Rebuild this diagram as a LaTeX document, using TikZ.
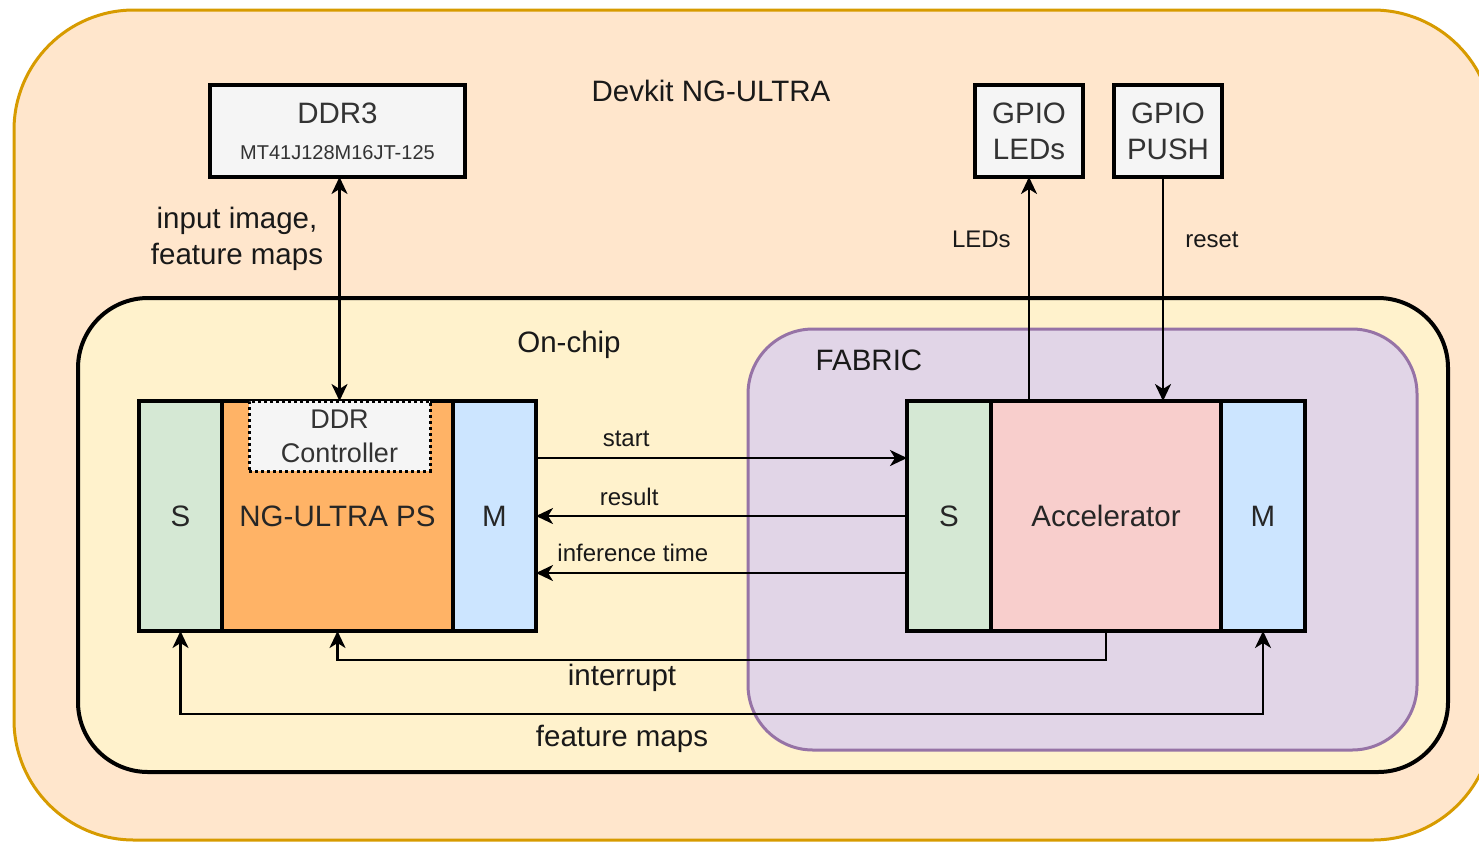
\documentclass[tikz,border=0pt]{standalone}
\usepackage{fontspec}
\setmainfont{Liberation Sans}
\usetikzlibrary{arrows.meta}

\definecolor{devkitfill}{HTML}{FFE6CC}
\definecolor{devkitline}{HTML}{D79B00}
\definecolor{chipfill}{HTML}{FFF2CC}
\definecolor{fabfill}{HTML}{E1D5E7}
\definecolor{fabline}{HTML}{9673A6}
\definecolor{slavefill}{HTML}{D5E8D4}
\definecolor{masterfill}{HTML}{CCE5FF}
\definecolor{psfill}{HTML}{FFB366}
\definecolor{accfill}{HTML}{F8CECC}
\definecolor{grayfill}{HTML}{F5F5F5}
\definecolor{graytext}{HTML}{333333}

\begin{document}
\begin{tikzpicture}[x=1pt,y=-1pt,
    >={Stealth[length=17pt,width=16pt,inset=5pt]},
    big/.style={font=\fontsize{29.5}{36}\selectfont},
    small/.style={font=\fontsize{24}{29}\selectfont},
    lbl/.style={inner sep=0pt,text=black!90},
    blk/.style={draw,line width=4pt,inner sep=0pt,outer sep=0pt,minimum height=230pt,big,text=black!85},
    graybox/.style={draw,line width=4pt,fill=grayfill,inner sep=0pt,outer sep=0pt,minimum height=92pt,text=graytext},
    conn/.style={line width=2.6pt,->},
    biconn/.style={line width=2.6pt,<->}]
\useasboundingbox (0,0) rectangle (1479,841);
\clip (0,0) rectangle (1479,841);

% containers
\draw[fill=devkitfill,draw=devkitline,line width=3pt,rounded corners=120pt] (14,10) rectangle (1493,840);
\draw[fill=chipfill,draw=black,line width=4pt,rounded corners=70pt] (78,298) rectangle (1448,772);
\draw[fill=fabfill,draw=fabline,line width=3pt,rounded corners=65pt] (748,329) rectangle (1417,750);

\node[lbl,big] (devkit) at (711,91) {Devkit NG-ULTRA};
\node[lbl,big] (onchip) at (569,345) {On-chip};
\node[lbl,big] (fabric) at (869,360) {FABRIC};

% external parts
\node[graybox,minimum width=255pt] (ddr3) at (337.5,131) {};
\node[lbl,big,text=graytext] (ddr3name) at (337.5,113) {DDR3};
\node[lbl,font=\fontsize{20}{24}\selectfont,text=graytext] (ddr3part) at (337.5,153) {MT41J128M16JT-125};
\node[graybox,big,align=center,minimum width=108pt] (leds) at (1029,131) {GPIO\\LEDs};
\node[graybox,big,align=center,minimum width=108pt] (push) at (1168,131) {GPIO\\PUSH};

% processing system
\node[blk,fill=slavefill,minimum width=83pt] (pss) at (180.5,516) {S};
\node[blk,fill=psfill,minimum width=231pt] (ps) at (337.5,516) {NG-ULTRA PS};
\node[blk,fill=masterfill,minimum width=83pt] (psm) at (494.5,516) {M};
\node[draw,line width=3pt,dash pattern=on 3pt off 3pt,fill=grayfill,inner sep=0pt,outer sep=0pt,
      minimum width=181pt,minimum height=70pt,align=center,text=graytext,
      font=\fontsize{27}{34}\selectfont] (ddrc) at (339.5,436) {DDR\\Controller};

% accelerator
\node[blk,fill=slavefill,minimum width=84pt] (accs) at (949,516) {S};
\node[blk,fill=accfill,minimum width=230pt] (acc) at (1106,516) {Accelerator};
\node[blk,fill=masterfill,minimum width=84pt] (accm) at (1263,516) {M};

% connections
\node[lbl,big,align=center] (memlabel) at (237,239) {input image,\\feature maps};
\draw[biconn] (ddrc.north |- ddr3.south) -- (ddrc.north);
\draw[conn] (leds.south |- acc.north) -- (leds.south)
    node[lbl,small,pos=0.72,left=17pt] {LEDs};
\draw[conn] ([xshift=-5pt]push.south) -- ([xshift=-5pt]push.south |- acc.north)
    node[lbl,small,pos=0.28,right=21pt] {reset};
\draw[conn] ([yshift=58pt]psm.east) -- ([yshift=58pt]accs.west)
    node[lbl,small,pos=0.243,above=10pt] {start};
\draw[conn] (accs.west) -- (psm.east)
    node[lbl,small,pos=0.749,above=9pt] {result};
\draw[conn] ([yshift=-57pt]accs.west) -- ([yshift=-57pt]psm.east)
    node[lbl,small,pos=0.739,above=10pt] {inference time};
\draw[conn] (acc.south) -- ++(0,29) -| (ps.south);
\node[lbl,big] (intlabel) at (622,678) {interrupt};
\draw[biconn] (pss.south) -- ++(0,83) -| (accm.south);
\node[lbl,big] (fmlabel) at (622,739) {feature maps};
\end{tikzpicture}
\end{document}
